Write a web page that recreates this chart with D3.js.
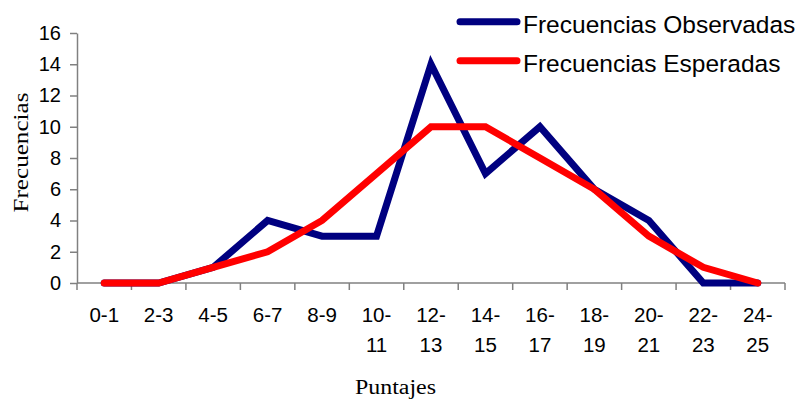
<!DOCTYPE html>
<html>
<head>
<meta charset="utf-8">
<script src="https://cdn.jsdelivr.net/npm/d3@7"></script>
<style>
  body { margin: 0; background: #fff; }
</style>
</head>
<body>
<figure id="chart" style="margin:0"></figure>
<script>
const categories = [["0-1"], ["2-3"], ["4-5"], ["6-7"], ["8-9"], ["10-", "11"], ["12-", "13"], ["14-", "15"], ["16-", "17"], ["18-", "19"], ["20-", "21"], ["22-", "23"], ["24-", "25"]];
const observadas = [0, 0, 1, 4, 3, 3, 14, 7, 10, 6, 4, 0, 0];
const esperadas = [0, 0, 1, 2, 4, 7, 10, 10, 8, 6, 3, 1, 0];
const yTicks = [0, 2, 4, 6, 8, 10, 12, 14, 16];
const seriesNames = ["Frecuencias Observadas", "Frecuencias Esperadas"];
const seriesColors = ["#000080", "#ff0000"];

const width = 804, height = 401;
const plotLeft = 77, plotRight = 785, plotTop = 33, plotBottom = 283;
const sans = "Arial, 'Liberation Sans', sans-serif";
const serif = "'Times New Roman', 'Liberation Serif', serif";

const svg = d3.select("#chart").append("svg")
  .attr("width", width)
  .attr("height", height);

const keys = categories.map(c => c.join(" "));

// x band scale, one band per score range
const x = d3.scaleBand()
  .domain(keys)
  .range([plotLeft, plotRight])
  .padding(0);

const y = d3.scaleLinear()
  .domain([0, 16])
  .range([plotBottom, plotTop]);

// y axis
const yAxis = svg.append("g")
  .attr("transform", "translate(" + plotLeft + ",0)")
  .call(d3.axisLeft(y).tickValues(yTicks).tickSize(7).tickPadding(9).tickSizeOuter(0));
yAxis.selectAll("text")
  .style("font-family", sans)
  .style("font-size", "20px")
  .attr("fill", "#000");
yAxis.select(".domain").attr("stroke", "#808080").attr("stroke-width", 1.5);
yAxis.selectAll(".tick line").attr("stroke", "#808080").attr("stroke-width", 1.5);

// x axis: ticks on band boundaries, labels in band centres
const xAxis = svg.append("g").attr("transform", "translate(0," + plotBottom + ")");
xAxis.append("line")
  .attr("x1", plotLeft).attr("x2", plotRight)
  .attr("stroke", "#808080").attr("stroke-width", 1.5);
const bounds = keys.map(k => x(k)).concat([plotRight]);
xAxis.selectAll("line.tick")
  .data(bounds)
  .enter().append("line")
  .attr("class", "tick")
  .attr("x1", d => d).attr("x2", d => d)
  .attr("y1", 0).attr("y2", 7)
  .attr("stroke", "#808080").attr("stroke-width", 1.5);
const labels = xAxis.selectAll("text.lbl")
  .data(categories)
  .enter().append("text")
  .attr("class", "lbl")
  .attr("x", (d, i) => x(keys[i]) + x.bandwidth() / 2)
  .attr("y", 39)
  .attr("text-anchor", "middle")
  .style("font-family", sans)
  .style("font-size", "20.5px")
  .attr("fill", "#000");
labels.selectAll("tspan")
  .data(d => d)
  .enter().append("tspan")
  .attr("x", function () { return this.parentNode.getAttribute("x"); })
  .attr("dy", (d, i) => i === 0 ? 0 : 29.5)
  .text(d => d);

// axis titles
svg.append("text")
  .attr("transform", "translate(28,152.5) rotate(-90)")
  .attr("text-anchor", "middle")
  .attr("textLength", 120)
  .attr("lengthAdjust", "spacingAndGlyphs")
  .style("font-family", serif)
  .style("font-size", "21px")
  .text("Frecuencias");
svg.append("text")
  .attr("x", 395.5).attr("y", 394)
  .attr("text-anchor", "middle")
  .attr("textLength", 81)
  .attr("lengthAdjust", "spacingAndGlyphs")
  .style("font-family", serif)
  .style("font-size", "20px")
  .text("Puntajes");

// lines
const line = d3.line()
  .x((d, i) => x(keys[i]) + x.bandwidth() / 2)
  .y(d => y(d));

[observadas, esperadas].forEach((s, i) => {
  svg.append("path")
    .datum(s)
    .attr("d", line)
    .attr("fill", "none")
    .attr("stroke", seriesColors[i])
    .attr("stroke-width", 7)
    .attr("stroke-linejoin", "miter")
    .attr("stroke-linecap", "round");
});

// legend
const legend = svg.append("g");
seriesNames.forEach((name, i) => {
  const ly = 21.7 + i * 39;
  legend.append("line")
    .attr("x1", 460).attr("x2", 517)
    .attr("y1", ly).attr("y2", ly)
    .attr("stroke", seriesColors[i])
    .attr("stroke-width", 7)
    .attr("stroke-linecap", "round");
  legend.append("text")
    .attr("x", 523).attr("y", ly + 11.5)
    .style("font-family", sans)
    .style("font-size", "24.5px")
    .text(name);
});
</script>
</body>
</html>
